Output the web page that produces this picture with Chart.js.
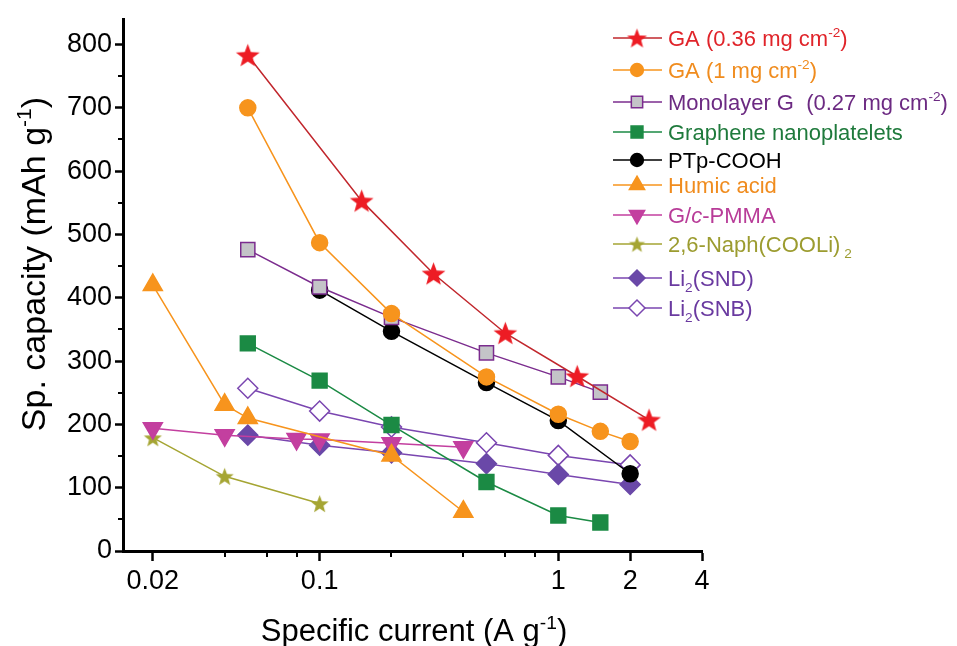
<!DOCTYPE html>
<html>
<head>
<meta charset="utf-8">
<script src="https://cdn.jsdelivr.net/npm/chart.js@4.4.0/dist/chart.umd.min.js"></script>
<style>
  html, body { margin: 0; padding: 0; background: #fff; }
</style>
</head>
<body>
<canvas id="capCanvas" width="957" height="646"></canvas>
<script>
// values (x: A g-1, y: mAh g-1)
const xGA036 = [0.05, 0.15, 0.3, 0.6, 1.2, 2.4];
const yGA036 = [783, 553, 438, 344, 276, 207];
const xGA1 = [0.05, 0.1, 0.2, 0.5, 1, 1.5, 2];
const yGA1 = [700, 487, 375, 275, 216, 189, 173];
const xMonoG = [0.05, 0.1, 0.2, 0.5, 1, 1.5];
const yMonoG = [476, 417, 369, 313, 275, 251];
const xGNP = [0.05, 0.1, 0.2, 0.5, 1, 1.5];
const yGNP = [328, 269, 199, 109, 56, 45];
const xPTp = [0.1, 0.2, 0.5, 1, 2];
const yPTp = [412, 347, 266, 206, 122];
const xHumic = [0.02, 0.04, 0.05, 0.2, 0.4];
const yHumic = [420, 231, 210, 151, 62];
const xPMMA = [0.02, 0.04, 0.08, 0.1, 0.2, 0.4];
const yPMMA = [194, 183, 177, 176, 170, 164];
const xNaph = [0.02, 0.04, 0.1];
const yNaph = [179, 118, 75];
const xSND = [0.05, 0.1, 0.2, 0.5, 1, 2];
const ySND = [183, 167, 155, 138, 121, 105];
const xSNB = [0.05, 0.1, 0.2, 0.5, 1, 2];
const ySNB = [257, 221, 196, 171, 151, 136];

const seriesLabels = [
  'GA (0.36 mg cm^{-2})',
  'GA (1 mg cm^{-2})',
  'Monolayer G  (0.27 mg cm^{-2})',
  'Graphene nanoplatelets',
  'PTp-COOH',
  'Humic acid',
  'G/*c*-PMMA',
  '2,6-Naph(COOLi)_{ 2}',
  'Li_{2}(SND)',
  'Li_{2}(SNB)'
];

const xMajorTicks = [0.02, 0.1, 1, 2, 4];
const xMinorTicks = [0.04, 0.06, 0.08, 0.2, 0.4, 0.6, 0.8];
const yMajorTicks = [0, 100, 200, 300, 400, 500, 600, 700, 800];
const yMinorTicks = [50, 150, 250, 350, 450, 550, 650, 750];

const FONT = "'Liberation Sans', Arial, sans-serif";

function pairs(xs, ys) {
  let out = [];
  for (let i = 0; i < xs.length; i++) {
    out.push({x: xs[i], y: ys[i]});
  }
  return out;
}

// filled five point star used as point image
function starImage(r, fill) {
  const c = document.createElement('canvas');
  const s = Math.ceil(2 * r + 2);
  c.width = s; c.height = s;
  const g = c.getContext('2d');
  g.fillStyle = fill;
  g.beginPath();
  for (let i = 0; i < 10; i++) {
    const rr = (i % 2 === 0) ? r : r * 0.42;
    const a = -Math.PI / 2 + i * Math.PI / 5;
    g.lineTo(s / 2 + rr * Math.cos(a), s / 2 + 1 + rr * Math.sin(a));
  }
  g.closePath();
  g.fill();
  return c;
}

function series(label, xs, ys, lineColor, fill, stroke, style, radius, extra) {
  let ds = {
    label: label,
    data: pairs(xs, ys),
    borderColor: lineColor,
    borderWidth: 1.5,
    backgroundColor: fill,
    pointBackgroundColor: fill,
    pointBorderColor: stroke,
    pointBorderWidth: 1.5,
    pointStyle: style,
    pointRadius: radius,
    pointHoverRadius: radius,
    fill: false,
    tension: 0,
    textColor: lineColor
  };
  return Object.assign(ds, extra || {});
}

// draws text with ^{sup}, _{sub} and *italic* parts
function drawRich(ctx, text, x, y, size, color, align) {
  const parts = [];
  const re = /(\^\{[^}]*\}|_\{[^}]*\}|\*[^*]*\*)/g;
  let last = 0, m;
  while ((m = re.exec(text)) !== null) {
    if (m.index > last) parts.push({t: text.slice(last, m.index), k: 'n'});
    const s = m[0];
    if (s[0] === '^') parts.push({t: s.slice(2, -1), k: 'sup'});
    else if (s[0] === '_') parts.push({t: s.slice(2, -1), k: 'sub'});
    else parts.push({t: s.slice(1, -1), k: 'it'});
    last = m.index + s.length;
  }
  if (last < text.length) parts.push({t: text.slice(last), k: 'n'});

  function fontFor(k) {
    if (k === 'sup' || k === 'sub') return (size * 0.62) + 'px ' + FONT;
    if (k === 'it') return 'italic ' + size + 'px ' + FONT;
    return size + 'px ' + FONT;
  }
  let total = 0;
  parts.forEach(p => { ctx.font = fontFor(p.k); p.w = ctx.measureText(p.t).width; total += p.w; });
  let cx = x;
  if (align === 'center') cx = x - total / 2;
  ctx.fillStyle = color;
  ctx.textAlign = 'left';
  ctx.textBaseline = 'alphabetic';
  parts.forEach(p => {
    ctx.font = fontFor(p.k);
    let dy = 0;
    if (p.k === 'sup') dy = -size * 0.4;
    if (p.k === 'sub') dy = size * 0.25;
    ctx.fillText(p.t, cx, y + dy);
    cx += p.w;
  });
}

const extrasPlugin = {
  id: 'extras',
  afterDraw(chart) {
    const ctx = chart.ctx;
    const xs = chart.scales.x, ys = chart.scales.y;
    const area = chart.chartArea;
    ctx.save();
    // minor ticks
    ctx.strokeStyle = '#000';
    ctx.lineWidth = 2;
    xMinorTicks.forEach(v => {
      const px = Math.round(xs.getPixelForValue(v));
      ctx.beginPath(); ctx.moveTo(px, area.bottom); ctx.lineTo(px, area.bottom + 6); ctx.stroke();
    });
    yMinorTicks.forEach(v => {
      const py = Math.round(ys.getPixelForValue(v));
      ctx.beginPath(); ctx.moveTo(area.left - 5, py); ctx.lineTo(area.left, py); ctx.stroke();
    });

    // axis titles
    drawRich(ctx, 'Specific current (A g^{-1})', 414, 641, 31, '#000', 'center');
    ctx.save();
    ctx.translate(45, 264);
    ctx.rotate(-Math.PI / 2);
    drawRich(ctx, 'Sp. capacity (mAh g^{-1})', 0, 0, 34, '#000', 'center');
    ctx.restore();

    // legend
    const rowY = [38, 70, 102, 132, 160, 185, 215, 244, 278, 308];
    chart.data.datasets.forEach((ds, i) => {
      const y = rowY[i];
      ctx.strokeStyle = ds.borderColor;
      ctx.lineWidth = 1.5;
      ctx.beginPath(); ctx.moveTo(613, y); ctx.lineTo(662, y); ctx.stroke();
      ctx.fillStyle = ds.pointBackgroundColor;
      ctx.strokeStyle = ds.pointBorderColor;
      ctx.lineWidth = ds.pointBorderWidth;
      const style = ds.legendStyle || ds.pointStyle;
      Chart.helpers.drawPoint(ctx, {
        pointStyle: style,
        radius: ds.pointRadius * 0.8,
        rotation: ds.pointRotation || 0,
        borderWidth: ds.pointBorderWidth
      }, 637, y);
      drawRich(ctx, ds.label, 668, y + 8, 22, ds.textColor, 'left');
    });
    ctx.restore();
  }
};

const red = '#ed1c24', orange = '#f7941d', purple = '#7b2c8e', green = '#1b8a44';
const magenta = '#c33f9f', olive = '#a5a533', violet = '#6a48a8', violetLine = '#7a46b0';

const datasets = [
  series(seriesLabels[0], xGA036, yGA036, '#c1272d', red, red, starImage(12.5, red), 12,
    {textColor: '#e0242a', legendStyle: starImage(10.5, red)}),
  series(seriesLabels[1], xGA1, yGA1, orange, orange, orange, 'circle', 8, {textColor: '#f08c1e'}),
  series(seriesLabels[2], xMonoG, yMonoG, purple, '#c4c4c8', purple, 'rect', 10, {textColor: '#6c2a82'}),
  series(seriesLabels[3], xGNP, yGNP, green, green, green, 'rect', 10.5, {textColor: '#1f7a3c'}),
  series(seriesLabels[4], xPTp, yPTp, '#000', '#000', '#000', 'circle', 8, {textColor: '#000'}),
  series(seriesLabels[5], xHumic, yHumic, orange, orange, orange, 'triangle', 11, {textColor: '#f08c1e'}),
  series(seriesLabels[6], xPMMA, yPMMA, magenta, magenta, magenta, 'triangle', 11, {pointRotation: 180, textColor: '#b83c98'}),
  series(seriesLabels[7], xNaph, yNaph, olive, olive, olive, starImage(9.5, olive), 9,
    {textColor: '#9c9c30', legendStyle: starImage(8.5, olive)}),
  series(seriesLabels[8], xSND, ySND, violetLine, violet, violet, 'rectRot', 10, {textColor: '#6a3aa0'}),
  series(seriesLabels[9], xSNB, ySNB, violetLine, '#fff', violetLine, 'rectRot', 10, {textColor: '#6a3aa0'})
];

const config = {
  type: 'line',
  data: { datasets: datasets },
  options: {
    responsive: false,
    animation: false,
    layout: { padding: { top: 15, right: 255, left: 0, bottom: 0 } },
    plugins: { legend: { display: false }, tooltip: { enabled: false }, title: { display: false } },
    scales: {
      x: {
        type: 'logarithmic',
        min: 0.015,
        max: 4,
        afterBuildTicks: function(scale) {
          scale.ticks = xMajorTicks.map(v => ({value: v}));
        },
        afterFit: function(scale) { scale.height = 95; },
        ticks: {
          autoSkip: false,
          maxRotation: 0,
          color: '#000',
          padding: 4,
          font: { family: FONT, size: 27 },
          callback: function(v) { return String(v); }
        },
        grid: { drawOnChartArea: false, tickLength: 10, tickWidth: 2.5, tickColor: '#000' },
        border: { color: '#000', width: 3 }
      },
      y: {
        min: 0,
        max: 840,
        afterBuildTicks: function(scale) {
          scale.ticks = yMajorTicks.map(v => ({value: v}));
        },
        afterFit: function(scale) { scale.width = 123; },
        ticks: {
          color: '#000',
          padding: 3,
          font: { family: FONT, size: 27 }
        },
        grid: { drawOnChartArea: false, tickLength: 8, tickWidth: 2.5, tickColor: '#000' },
        border: { color: '#000', width: 3 }
      }
    }
  },
  plugins: [extrasPlugin]
};

document.addEventListener('DOMContentLoaded', function() {
  new Chart(document.getElementById('capCanvas'), config);
});
</script>
</body>
</html>
